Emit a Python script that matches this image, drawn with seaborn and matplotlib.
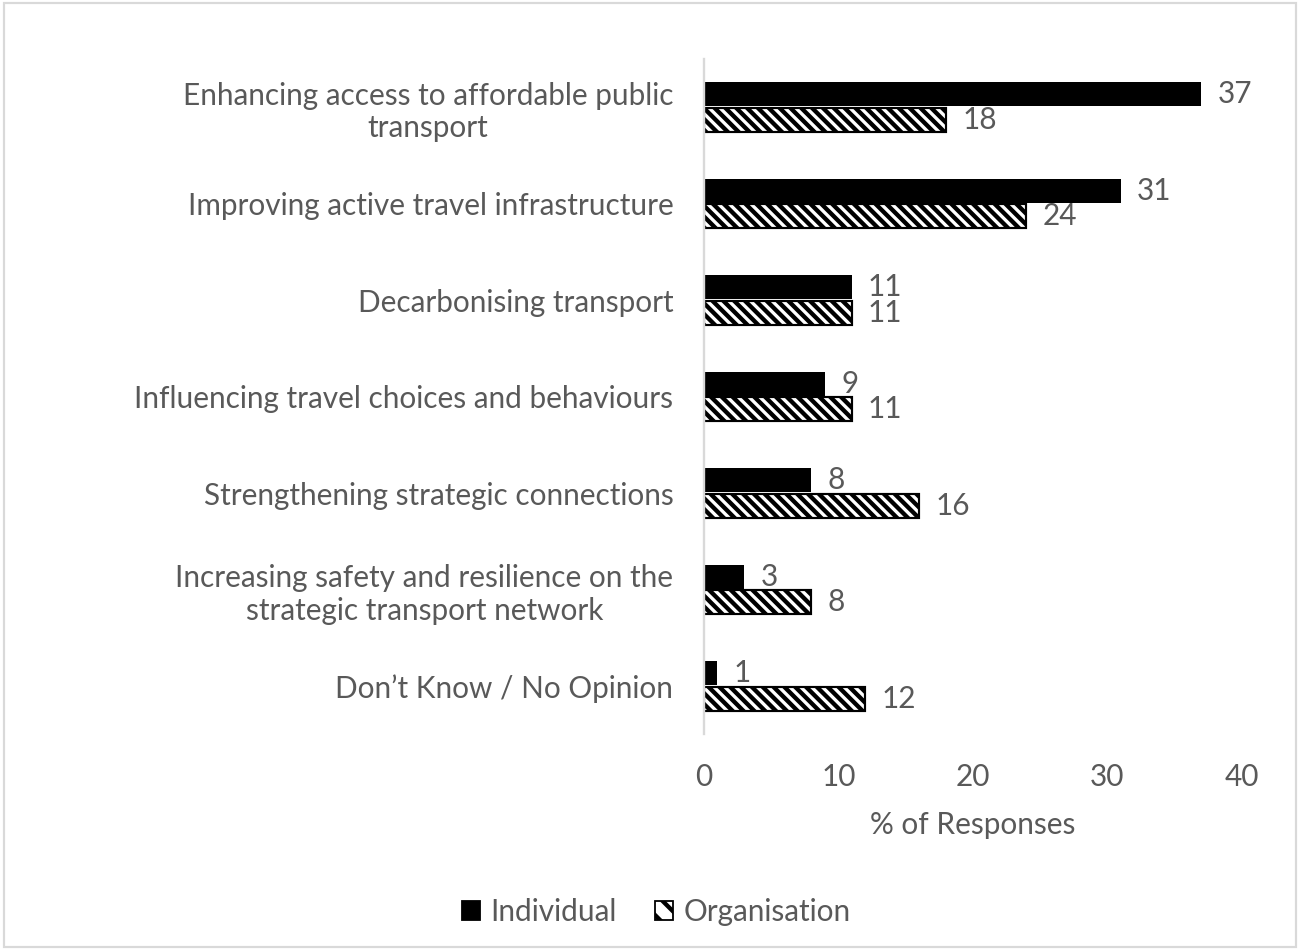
import matplotlib
matplotlib.use('Agg')
import matplotlib.pyplot as plt
from matplotlib.patches import Patch, Rectangle
import pandas as pd
import seaborn as sns

# Data
categories = [
    "Enhancing access to affordable public\ntransport",
    "Improving active travel infrastructure",
    "Decarbonising transport",
    "Influencing travel choices and behaviours",
    "Strengthening strategic connections",
    "Increasing safety and resilience on the\nstrategic transport network",
    "Don\u2019t Know / No Opinion",
]
individual = [37, 31, 11, 9, 8, 3, 1]
organisation = [18, 24, 11, 11, 16, 8, 12]
groups = ["Individual", "Organisation"]
x_ticks = [0, 10, 20, 30, 40]

df = pd.DataFrame({
    "Priority": categories * 2,
    "Group": [groups[0]] * len(categories) + [groups[1]] * len(categories),
    "Percent": individual + organisation,
})

sns.set_style("white")
plt.rcParams['font.family'] = ['Lato', 'DejaVu Sans']
plt.rcParams['hatch.linewidth'] = 2.4
text_grey = "#595959"
fs = 16.5
hatch = "\\" * 4

fig = plt.figure(figsize=(10, 950 / 130), dpi=130)
ax = fig.add_axes([0.5415, 0.227, 0.955 - 0.5415, 0.938 - 0.227])

sns.barplot(data=df, y="Priority", x="Percent", hue="Group", orient="h",
            palette=["black", "white"], width=0.53, gap=0.06,
            order=categories, hue_order=groups, legend=False, ax=ax)

# style the two series
for bar in ax.containers[0]:
    bar.set_edgecolor("black")
    bar.set_linewidth(0)
for bar in ax.containers[1]:
    bar.set_facecolor("white")
    bar.set_edgecolor("black")
    bar.set_hatch(hatch)
    bar.set_linewidth(1.2)

# value labels
for cont in ax.containers:
    for bar in cont:
        w = bar.get_width()
        ax.annotate(f"{w:.0f}", (w, bar.get_y() + bar.get_height() / 2),
                    xytext=(9, 0), textcoords="offset points",
                    va="center", ha="left", fontsize=fs, color=text_grey)

ax.set_xlim(0, 40)
ax.set_xticks(x_ticks)
ax.set_xlabel("% of Responses", fontsize=fs, color=text_grey, labelpad=11)
ax.set_ylabel("")
ax.tick_params(axis="both", length=0, labelsize=fs, labelcolor=text_grey)
ax.tick_params(axis="y", pad=17)
ax.tick_params(axis="x", pad=16)
for lbl in ax.get_yticklabels():
    lbl.set_multialignment("center")

for side in ["top", "right", "bottom"]:
    ax.spines[side].set_visible(False)
ax.spines["left"].set_color("#d9d9d9")
ax.spines["left"].set_linewidth(1.3)

handles = [Patch(facecolor="black", edgecolor="black", label=groups[0]),
           Patch(facecolor="white", edgecolor="black", hatch="\\\\",
                 label=groups[1])]
leg = fig.legend(handles=handles, loc="center", bbox_to_anchor=(0.505, 0.04),
                 ncol=2, frameon=False, fontsize=fs, handlelength=0.6,
                 handleheight=0.6, handletextpad=0.35, columnspacing=1.3)
for t in leg.get_texts():
    t.set_color(text_grey)

# light grey chart border
fig.patches.append(Rectangle((0.003, 0.003), 0.994, 0.994, transform=fig.transFigure,
                             fill=False, edgecolor="#d9d9d9", linewidth=1.2))

fig.savefig("out.png", dpi=130)
